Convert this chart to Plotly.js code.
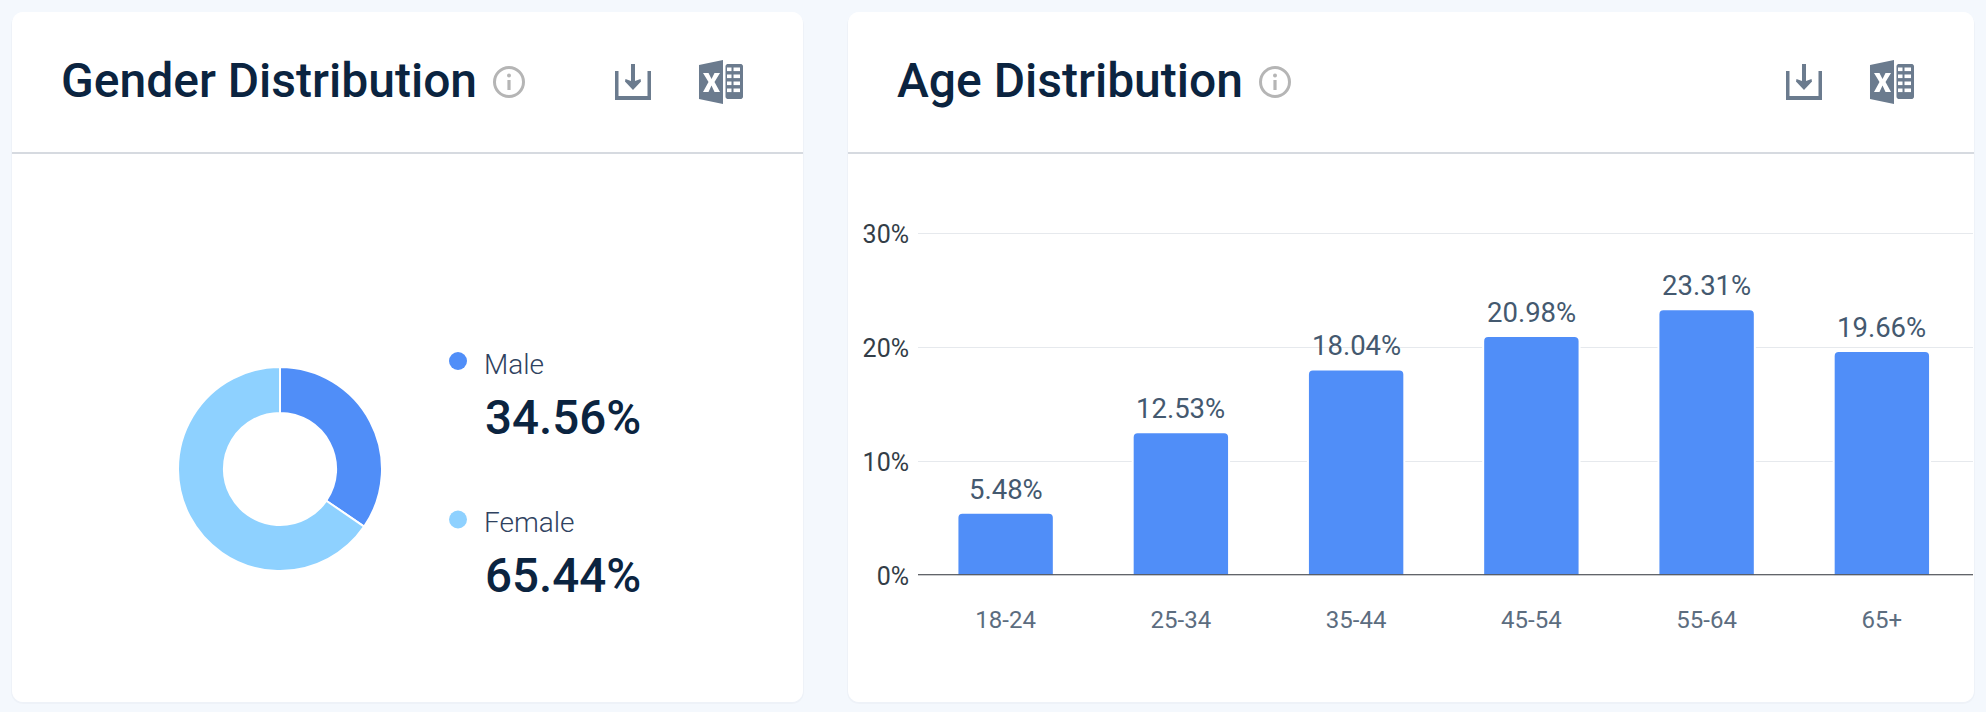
<!DOCTYPE html>
<html>
<head>
<meta charset="utf-8">
<script src="https://cdn.plot.ly/plotly-3.0.1.min.js"></script>
<style>html,body{margin:0;padding:0;background:#f4f8fd;overflow:hidden}</style>
</head>
<body>
<div id="chart" style="width:1986px;height:712px"></div>
<script>
const genderLabels = ['Male', 'Female'];
const genderValues = [34.56, 65.44];
const genderColors = ['#508EF8', '#8ED1FF'];
const ageCategories = ['18-24', '25-34', '35-44', '45-54', '55-64', '65+'];
const ageValues = [5.48, 12.53, 18.04, 20.98, 23.31, 19.66];
const ageTicks = [0, 10, 20, 30];
const ageTickLabels = ['0%', '10%', '20%', '30%'];
const cardTitles = ['Gender Distribution', 'Age Distribution'];

const W = 1986, H = 712;
const px = x => x / W, py = y => 1 - y / H;
const P = (x, y) => px(x).toFixed(5) + ',' + py(y).toFixed(5);

function poly(points, fill) {
  return {type:'path', xref:'paper', yref:'paper', layer:'below', fillcolor:fill, line:{width:0},
    path:'M' + points.map(p => P(p[0], p[1])).join(' L') + ' Z'};
}
function roundRect(x0, y0, x1, y1, r, fill) {
  const seg = [];
  const arc = (cx, cy, a0) => { for (let i = 0; i <= 6; i++) { const a = (a0 + i * 15) * Math.PI / 180; seg.push([cx + r * Math.cos(a), cy + r * Math.sin(a)]); } };
  arc(x0 + r, y0 + r, 180); arc(x1 - r, y0 + r, 270); arc(x1 - r, y1 - r, 0); arc(x0 + r, y1 - r, 90);
  return poly(seg, fill);
}
function hline(x0, x1, y, color, w) {
  return {type:'line', xref:'paper', yref:'paper', layer:'below', x0:px(x0), x1:px(x1), y0:py(y), y1:py(y), line:{color:color, width:w}};
}
function circle(cx, cy, r, fill, lineColor, lw) {
  return {type:'circle', xref:'paper', yref:'paper', layer:'below', x0:px(cx - r), x1:px(cx + r), y0:py(cy + r), y1:py(cy - r),
    fillcolor:fill, line:{color:lineColor || 'rgba(0,0,0,0)', width:lw || 0}};
}

const iconColor = '#6B7B8E';
function headerIcons(dx) {
  const s = [];
  const ix = 509 + (dx === 0 ? 0 : 766);
  // info
  s.push(circle(ix, 82, 14.5, 'rgba(0,0,0,0)', '#B5B5B5', 3));
  s.push(circle(ix, 75.5, 2, '#B5B5B5'));
  s.push(poly([[ix - 1.6, 80], [ix + 1.6, 80], [ix + 1.6, 90], [ix - 1.6, 90]], '#B5B5B5'));
  // download tray and arrow
  s.push(poly([[615+dx,71],[618.5+dx,71],[618.5+dx,96],[647.5+dx,96],[647.5+dx,71],[651+dx,71],[651+dx,100],[615+dx,100]], iconColor));
  s.push(poly([[631+dx,64],[635+dx,64],[635+dx,81],[640.5+dx,79],[641+dx,81.5],[633+dx,90],[625+dx,81.5],[625.5+dx,79],[631+dx,81]], iconColor));
  // spreadsheet icon
  s.push(poly([[699+dx,65],[723+dx,60],[723+dx,104],[699+dx,99]], iconColor));
  s.push(roundRect(725.5+dx, 64, 743+dx, 99, 2.5, iconColor));
  [67.5, 74.5, 81.5, 88.5].forEach(y => {
    s.push(poly([[727+dx,y],[731.5+dx,y],[731.5+dx,y+3.6],[727+dx,y+3.6]], '#FFFFFF'));
    s.push(poly([[733.5+dx,y],[740+dx,y],[740+dx,y+3.6],[733.5+dx,y+3.6]], '#FFFFFF'));
  });
  const xx = 703 + dx;
  s.push(poly([[xx,73],[xx+5.5,73],[xx+8.5,79],[xx+11.5,73],[xx+17,73],[xx+11.5,82],[xx+17,92],[xx+11.5,92],[xx+8.5,85.5],[xx+5.5,92],[xx,92],[xx+5.5,82]], '#FFFFFF'));
  return s;
}

const shapes = [
  roundRect(11, 13, 804, 704, 12, '#EEF2F8'),
  roundRect(847, 13, 1975, 704, 12, '#EEF2F8'),
  roundRect(12, 12, 803, 702, 11, '#FFFFFF'),
  roundRect(848, 12, 1974, 702, 11, '#FFFFFF'),
  hline(12, 803, 153, '#C8CED6', 1.6),
  hline(848, 1974, 153, '#C8CED6', 1.6),
  circle(458, 361, 9, genderColors[0]),
  circle(458, 519.5, 9, genderColors[1]),
  ...headerIcons(0),
  ...headerIcons(1171),
  {type:'line', xref:'x domain', yref:'y', layer:'above', x0:0, x1:1, y0:ageTicks[0], y1:ageTicks[0], line:{color:'#2E3238', width:2}}
];

const fontName = 'Roboto, sans-serif';
function label(text, x, y, size, color, weight) {
  return {text:text, xref:'paper', yref:'paper', x:px(x), y:py(y), xanchor:'left', yanchor:'middle', showarrow:false,
    font:{family:fontName, size:size, color:color, weight:weight}};
}
const annotations = [
  label(cardTitles[0], 59, 81, 48, '#0B2440', 500),
  label(cardTitles[1], 895, 81, 48, '#0B2440', 500),
  label(genderLabels[0], 482, 364, 28, '#2F4260', 300),
  label(genderValues[0].toFixed(2) + '%', 482.5, 418, 47.5, '#0B2440', 500),
  label(genderLabels[1], 482, 522, 28, '#2F4260', 300),
  label(genderValues[1].toFixed(2) + '%', 482.5, 576, 47.5, '#0B2440', 500)
];
ageCategories.forEach((c, i) => annotations.push({
  text: ageValues[i].toFixed(2) + '%', x:c, y:ageValues[i], xref:'x', yref:'y', xanchor:'center', yanchor:'bottom',
  yshift:5, showarrow:false, font:{family:fontName, size:27.5, color:'#44596F', weight:400}
}));

const data = [
  {type:'pie', labels:genderLabels, values:genderValues, sort:false, direction:'clockwise', rotation:0, hole:0.55,
   textinfo:'none', showlegend:false, hoverinfo:'label+percent',
   marker:{colors:genderColors, line:{color:'#FFFFFF', width:2}},
   domain:{x:[px(178), px(382)], y:[py(571), py(367)]}},
  {type:'bar', x:ageCategories, y:ageValues, width:0.55, xaxis:'x', yaxis:'y',
   marker:{color:'#508EF8', cornerradius:5, line:{color:'#FFFFFF', width:2}}, showlegend:false,
   hovertemplate:'%{x}: %{y:.2f}%<extra></extra>'}
];

const layout = {
  width:W, height:H, margin:{l:0, r:0, t:0, b:0}, paper_bgcolor:'#F4F8FD', plot_bgcolor:'rgba(0,0,0,0)',
  showlegend:false, shapes:shapes, annotations:annotations,
  xaxis:{domain:[px(918), px(1973)], anchor:'y', type:'category', range:[-0.5, 5.52], showgrid:false, zeroline:false, showline:false,
    ticks:'', ticklabelstandoff:28, tickfont:{family:fontName, size:24, color:'#5C6D7F'}},
  yaxis:{domain:[py(575.3), py(227.3)], anchor:'x', range:[0, 30.5], tickmode:'array', tickvals:ageTicks, ticktext:ageTickLabels,
    showgrid:true, gridcolor:'#E6E9ED', gridwidth:1, zeroline:false, showline:false,
    ticks:'', ticklabelstandoff:8, ticklabelshift:1, tickfont:{family:fontName, size:25, color:'#333D47'}}
};
Plotly.newPlot('chart', data, layout, {displayModeBar:false, staticPlot:true});
</script>
</body>
</html>
